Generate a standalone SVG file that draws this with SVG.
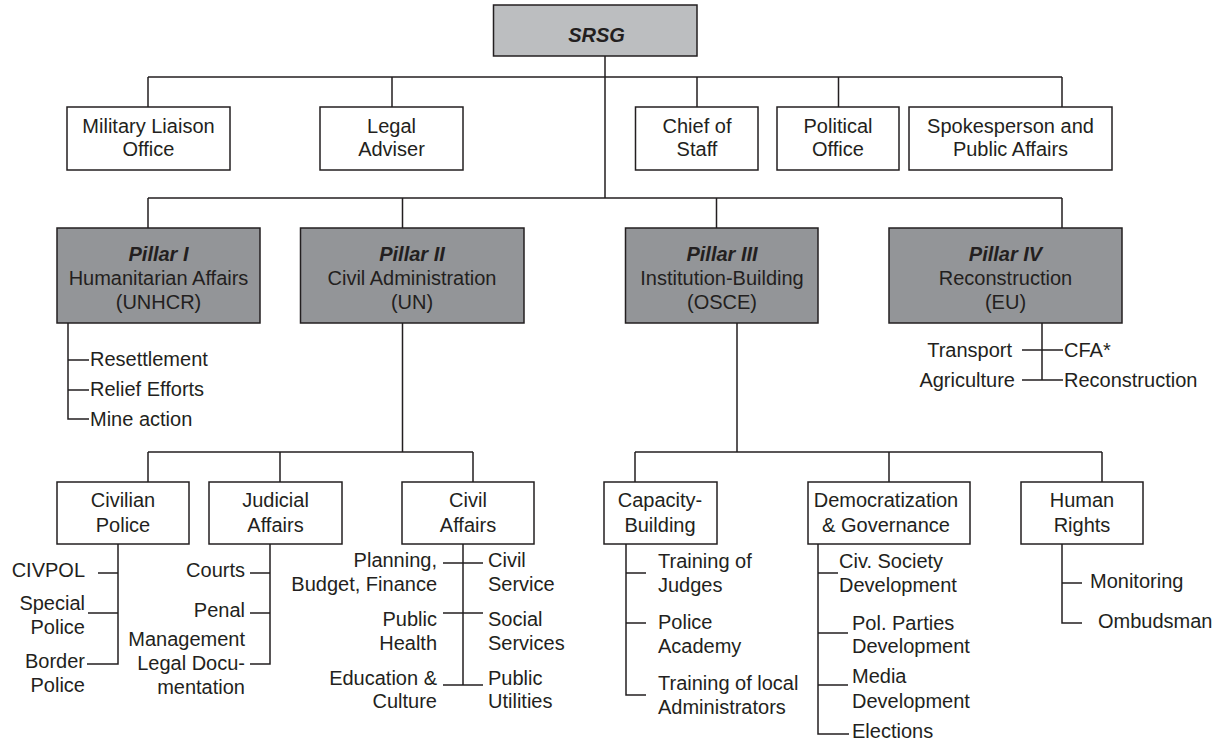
<svg xmlns="http://www.w3.org/2000/svg" width="1219" height="744" viewBox="0 0 1219 744">
<style>
text{font-family:"Liberation Sans",Arial,sans-serif;font-size:20px;fill:#231f20}
.m{text-anchor:middle}.e{text-anchor:end}
.bi{font-weight:bold;font-style:italic}
.box{fill:#fff;stroke:#231f20;stroke-width:1.5}
.pil{fill:#939598;stroke:#231f20;stroke-width:1.5}
.top{fill:#bcbec0;stroke:#231f20;stroke-width:1.5}
.ln{fill:none;stroke:#231f20;stroke-width:1.5}
</style>
<rect width="1219" height="744" fill="#fff"/>
<g id="connectors" class="ln">
<path d="M605 56V198M148 77H1062M148 77V107M392 77V107M697 77V107M838.5 77V107M1062 77V107"/>
<path d="M148 198H1062M148 198V228M402.5 198V228M716.5 198V228M1062 198V228"/>
<path d="M68 323V419H89M68 360H89M68 390H89"/>
<path d="M1042 323V380M1022 350H1063M1022 380H1063"/>
<path d="M402.5 323V452M148 452H473M148 452V482M280 452V482M473 452V482"/>
<path d="M737 323V452M635 452H1102M635 452V482M889 452V482M1102 452V482"/>
<path d="M118 544V664H87M98 573H118M88 613H118"/>
<path d="M270 544V664H250M250 573H270M250 613H270"/>
<path d="M463 544V685M443 563H483M443 613H483M443 685H483"/>
<path d="M626 544V695H646M626 573H646M626 623H646"/>
<path d="M818 544V734H849M818 573H838M818 633H848M818 685H848"/>
<path d="M1062 544V623H1082M1062 583H1082"/>
</g>
<g id="srsg"><rect class="top" x="493.5" y="5" width="203.5" height="51"/><text class="m bi" x="596.5" y="42">SRSG</text></g>
<g id="military"><rect class="box" x="67" y="107" width="163" height="63"/><text class="m" x="148.5" y="133">Military Liaison</text><text class="m" x="148.5" y="156">Office</text></g>
<g id="legal"><rect class="box" x="320" y="107" width="143" height="63"/><text class="m" x="391.5" y="133">Legal</text><text class="m" x="391.5" y="156">Adviser</text></g>
<g id="chief"><rect class="box" x="635.5" y="107" width="122.5" height="63"/><text class="m" x="697" y="133">Chief of</text><text class="m" x="697" y="156">Staff</text></g>
<g id="political"><rect class="box" x="777" y="107" width="122" height="63"/><text class="m" x="838" y="133">Political</text><text class="m" x="838" y="156">Office</text></g>
<g id="spokes"><rect class="box" x="909" y="107" width="203" height="63"/><text class="m" x="1010.5" y="133">Spokesperson and</text><text class="m" x="1010.5" y="156">Public Affairs</text></g>
<g id="pillar1"><rect class="pil" x="57" y="228" width="203" height="95"/><text class="m bi" x="158.5" y="261">Pillar I</text><text class="m" x="158.5" y="285">Humanitarian Affairs</text><text class="m" x="158.5" y="309">(UNHCR)</text></g>
<g id="pillar2"><rect class="pil" x="300.5" y="228" width="223.5" height="95"/><text class="m bi" x="412" y="261">Pillar II</text><text class="m" x="412" y="285">Civil Administration</text><text class="m" x="412" y="309">(UN)</text></g>
<g id="pillar3"><rect class="pil" x="625.5" y="228" width="192.5" height="95"/><text class="m bi" x="722" y="261">Pillar III</text><text class="m" x="722" y="285">Institution-Building</text><text class="m" x="722" y="309">(OSCE)</text></g>
<g id="pillar4"><rect class="pil" x="889" y="228" width="233" height="95"/><text class="m bi" x="1005.5" y="261">Pillar IV</text><text class="m" x="1005.5" y="285">Reconstruction</text><text class="m" x="1005.5" y="309">(EU)</text></g>
<g id="p1items"><text x="90" y="366">Resettlement</text><text x="90" y="396">Relief Efforts</text><text x="90" y="426">Mine action</text></g>
<g id="p4items"><text class="e" x="1012" y="357">Transport</text><text x="1064" y="357">CFA*</text><text class="e" x="1015" y="387">Agriculture</text><text x="1064" y="387">Reconstruction</text></g>
<g id="civpol"><rect class="box" x="57" y="482" width="132" height="62"/><text class="m" x="123" y="507">Civilian</text><text class="m" x="123" y="532">Police</text></g>
<g id="civpolitems"><text class="e" x="85" y="577">CIVPOL</text><text class="e" x="85" y="610">Special</text><text class="e" x="85" y="634">Police</text><text class="e" x="85" y="668">Border</text><text class="e" x="85" y="692">Police</text></g>
<g id="judicial"><rect class="box" x="209" y="482" width="133" height="62"/><text class="m" x="275.5" y="507">Judicial</text><text class="m" x="275.5" y="532">Affairs</text></g>
<g id="judicialitems"><text class="e" x="245" y="577">Courts</text><text class="e" x="245" y="617">Penal</text><text class="e" x="245" y="646">Management</text><text class="e" x="245" y="670">Legal Docu-</text><text class="e" x="245" y="694">mentation</text></g>
<g id="civilaffairs"><rect class="box" x="402" y="482" width="132" height="62"/><text class="m" x="468" y="507">Civil</text><text class="m" x="468" y="532">Affairs</text></g>
<g id="civilitems"><text class="e" x="437" y="567">Planning,</text><text class="e" x="437" y="591">Budget, Finance</text><text class="e" x="437" y="626">Public</text><text class="e" x="437" y="650">Health</text><text class="e" x="437" y="685">Education &amp;</text><text class="e" x="437" y="708">Culture</text>
<text x="488" y="567">Civil</text><text x="488" y="591">Service</text><text x="488" y="626">Social</text><text x="488" y="650">Services</text><text x="488" y="685">Public</text><text x="488" y="708">Utilities</text></g>
<g id="capacity"><rect class="box" x="604" y="482" width="113" height="62"/><text class="m" x="660" y="507">Capacity-</text><text class="m" x="660" y="532">Building</text></g>
<g id="capacityitems"><text x="658" y="568">Training of</text><text x="658" y="592">Judges</text><text x="658" y="629">Police</text><text x="658" y="653">Academy</text><text x="658" y="690">Training of local</text><text x="658" y="714">Administrators</text></g>
<g id="democ"><rect class="box" x="808" y="482" width="162" height="62"/><text class="m" x="886" y="507">Democratization</text><text class="m" x="886" y="532">&amp; Governance</text></g>
<g id="democitems"><text x="839" y="568">Civ. Society</text><text x="839" y="592">Development</text><text x="852" y="630">Pol. Parties</text><text x="852" y="653">Development</text><text x="852" y="683">Media</text><text x="852" y="708">Development</text><text x="852" y="738">Elections</text></g>
<g id="humanrights"><rect class="box" x="1021" y="482" width="122" height="62"/><text class="m" x="1082" y="507">Human</text><text class="m" x="1082" y="532">Rights</text></g>
<g id="hritems"><text x="1090" y="588">Monitoring</text><text x="1098" y="628">Ombudsman</text></g>
</svg>
